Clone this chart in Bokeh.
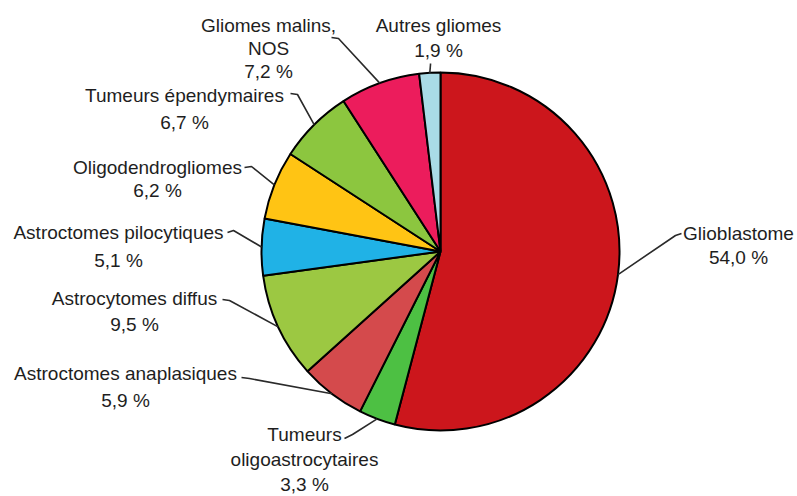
import math
from bokeh.plotting import figure
from bokeh.models import Range1d, ColumnDataSource
from bokeh.core.properties import value
from bokeh.embed import file_html
from bokeh.resources import INLINE

# ---- data ----
categories = ["Glioblastome", "Tumeurs oligoastrocytaires", "Astroctomes anaplasiques",
              "Astrocytomes diffus", "Astroctomes pilocytiques", "Oligodendrogliomes",
              "Tumeurs épendymaires", "Gliomes malins, NOS", "Autres gliomes"]
percent = [54.0, 3.3, 5.9, 9.5, 5.1, 6.2, 6.7, 7.2, 1.9]
label_lines = [["Glioblastome", "54,0 %"],
               ["Tumeurs", "oligoastrocytaires", "3,3 %"],
               ["Astroctomes anaplasiques", "5,9 %"],
               ["Astrocytomes diffus", "9,5 %"],
               ["Astroctomes pilocytiques", "5,1 %"],
               ["Oligodendrogliomes", "6,2 %"],
               ["Tumeurs épendymaires", "6,7 %"],
               ["Gliomes malins,", "NOS", "7,2 %"],
               ["Autres gliomes", "1,9 %"]]
colors = ["#CC161C", "#4DC043", "#D44A4C", "#9CC842", "#20B2E6",
          "#FFC414", "#8CC63F", "#EC1C5C", "#A9DBE6"]

# ---- layout (pixel coords, y downwards) ----
W, H = 797, 496
CX, CY, R = 440, 251, 179
# text centre x, first line y, line step, leader anchor (x, y), elbow (x, y)
label_layout = [
    (738, 233, 24, (681, 233), (675, 235)),
    (304, 434, 25, (344, 438), (352, 434)),
    (125, 373, 27, (241, 377), (249, 378)),
    (134, 298, 26, (222, 299), (229, 300)),
    (118, 232, 28, (227, 232), (233, 230)),
    (157, 167, 23, (244, 167), (251, 166)),
    (184, 95, 27, (290, 93), (297, 94)),
    (268, 25, 23, (331, 37), (338, 38)),
    (438, 25, 25, (430, 63), (430, 64)),
]

def Y(y):
    return H - y

p = figure(width=W, height=H, output_backend="svg", toolbar_location=None,
           x_range=Range1d(0, W), y_range=Range1d(0, H),
           min_border=0, x_axis_location=None, y_axis_location=None)
p.grid.visible = False
p.outline_line_color = None
p.background_fill_color = "white"

total = sum(percent)
starts, ends, mids = [], [], []
acc = 0.0
for v in percent:
    a0 = acc / total * 2 * math.pi
    acc += v
    a1 = acc / total * 2 * math.pi
    starts.append(math.pi / 2 - a0)
    ends.append(math.pi / 2 - a1)
    mids.append((a0 + a1) / 2)

src = ColumnDataSource(dict(start=starts, end=ends, color=colors, cat=categories))
p.wedge(x=CX, y=Y(CY), radius=R, start_angle="start", end_angle="end",
        direction="clock", fill_color="color", line_color="black", line_width=2,
        source=src)

# leader lines
xs, ys = [], []
for (cx, y1, dy, anc, elb), m in zip(label_layout, mids):
    ex = CX + R * math.sin(m)
    ey = CY - R * math.cos(m)
    xs.append([anc[0], elb[0], ex])
    ys.append([Y(anc[1]), Y(elb[1]), Y(ey)])
p.multi_line(xs, ys, line_color="#2a2a2a", line_width=1.6)

# labels
tx, ty, tt = [], [], []
for lines, (cx, y1, dy, anc, elb) in zip(label_lines, label_layout):
    for i, s in enumerate(lines):
        tx.append(cx)
        ty.append(Y(y1 + i * dy))
        tt.append(s)
p.text(x=tx, y=ty, text=tt, text_align="center", text_baseline="middle",
       text_font=value("Liberation Sans"), text_font_size="19px",
       text_color="#1e1e1e")

open("out.html", "w").write(file_html(p, INLINE))
